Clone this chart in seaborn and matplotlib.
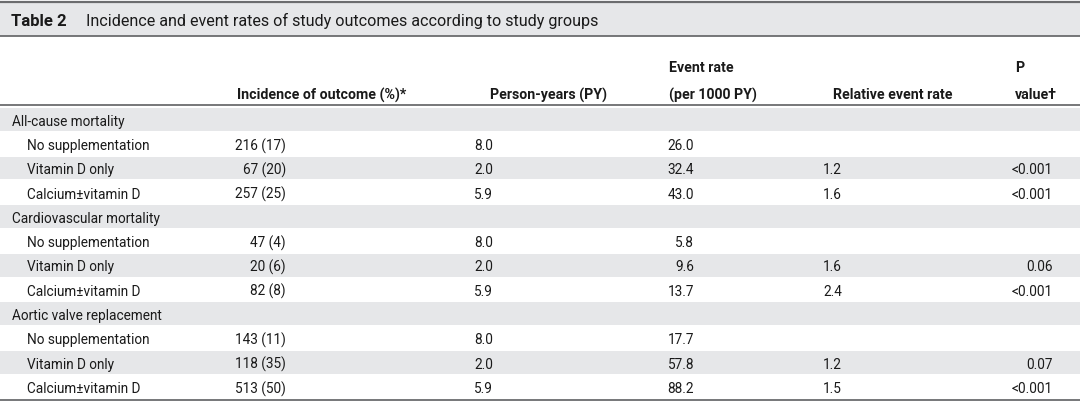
import numpy as np
import pandas as pd
import matplotlib.pyplot as plt
import seaborn as sns

sns.set_style('white')
plt.rcParams['font.family'] = ['Roboto', 'DejaVu Sans']

title_bold = "Table 2"
title_text = "Incidence and event rates of study outcomes according to study groups"

sections = ["All-cause mortality", "Cardiovascular mortality", "Aortic valve replacement"]
groups = ["No supplementation", "Vitamin D only", "Calcium\u00b1vitamin D"]
incidence = [["216 (17)", "67 (20)", "257 (25)"],
             ["47 (4)", "20 (6)", "82 (8)"],
             ["143 (11)", "118 (35)", "513 (50)"]]
person_years = [["8.0", "2.0", "5.9"], ["8.0", "2.0", "5.9"], ["8.0", "2.0", "5.9"]]
event_rate = [["26.0", "32.4", "43.0"], ["5.8", "9.6", "13.7"], ["17.7", "57.8", "88.2"]]
relative_rate = [["", "1.2", "1.6"], ["", "1.6", "2.4"], ["", "1.2", "1.5"]]
p_value = [["", "<0.001", "<0.001"], ["", "0.06", "<0.001"], ["", "0.07", "<0.001"]]

# build a flat table of rows
rows = []
for i, s in enumerate(sections):
    rows.append(dict(label=s, kind="section", inc="", py="", er="", rr="", p=""))
    for j, g in enumerate(groups):
        rows.append(dict(label=g, kind="group", inc=incidence[i][j], py=person_years[i][j],
                         er=event_rate[i][j], rr=relative_rate[i][j], p=p_value[i][j]))
table = pd.DataFrame(rows)

grey = '#e6e7e9'
line_col = '#6b6c6e'
txt = '#1a1a1a'
fs = 9.8

fig = plt.figure(figsize=(10.8, 4.06), dpi=100)
ax = fig.add_axes([0, 0, 1, 1])
ax.set_xlim(0, 1080)
ax.set_ylim(406, 0)
ax.axis('off')

# title band
ax.axhspan(3, 37, color=grey, lw=0)
ax.axhline(3, color=line_col, lw=1.6)
ax.axhline(37, color=line_col, lw=1.3)
ax.text(11, 21, title_bold, fontsize=12, fontweight='bold', color=txt, va='center')
ax.text(86, 21, title_text, fontsize=11.6, color=txt, va='center')

# header
hb = 95
hd = dict(fontsize=10.2, fontweight='bold', color=txt, va='center')
ax.text(237, hb, "Incidence of outcome (%)*", **hd)
ax.text(490, hb, "Person-years (PY)", **hd)
ax.text(669, hb - 27, "Event rate", **hd)
ax.text(669, hb, "(per 1000 PY)", **hd)
ax.text(833, hb, "Relative event rate", **hd)
ax.text(1015, hb - 27, "P", **hd)
ax.text(1015, hb, "value\u2020", **hd)
ax.axhline(106, color=line_col, lw=1.3)

top = 109
rh = 24.3
for k, r in table.iterrows():
    y0 = top + k * rh
    yc = y0 + rh / 2 + 0.5
    if r['kind'] == 'section' or r['label'] == "Vitamin D only":
        ax.axhspan(y0, y0 + rh - 1.5, color=grey, lw=0)
    kw = dict(fontsize=fs, color=txt, va='center')
    if r['kind'] == 'section':
        ax.text(12, yc, r['label'], **kw)
        continue
    ax.text(27, yc, r['label'], **kw)
    ax.text(286, yc, r['inc'], ha='right', **kw)
    ax.text(493, yc, r['py'], ha='right', **kw)
    ax.text(694, yc, r['er'], ha='right', **kw)
    ax.text(842, yc, r['rr'], ha='right', **kw)
    ax.text(1053, yc, r['p'], ha='right', **kw)

ax.axhline(401, color=line_col, lw=1.3)

fig.savefig("out.png", dpi=100)
